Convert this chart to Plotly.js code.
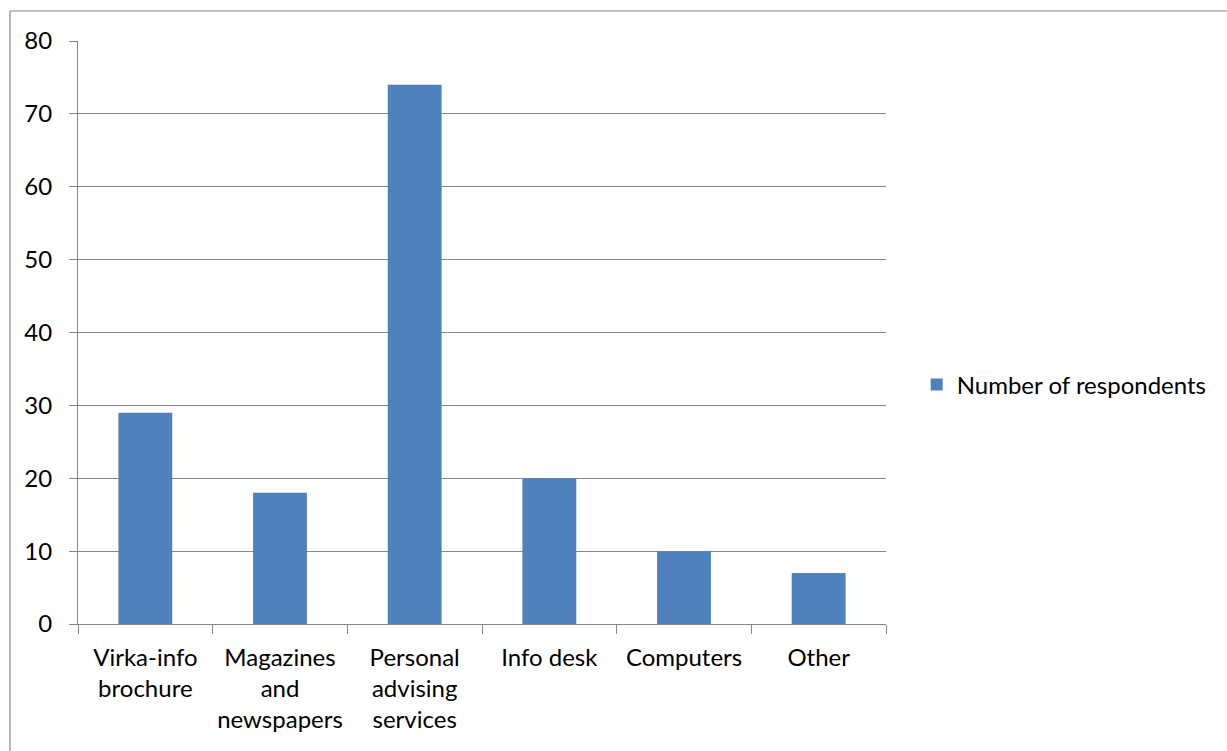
<!DOCTYPE html>
<html>
<head>
<meta charset="utf-8">
<script src="https://cdn.plot.ly/plotly-3.0.1.min.js"></script>
<style>
  html, body { margin: 0; padding: 0; background: #ffffff; }
  #chart { width: 1227px; height: 751px; }
</style>
</head>
<body>
<div id="chart"></div>
<script>
// Sources of information used by respondents
const categories = [
  "Virka-info<br>brochure",
  "Magazines<br>and<br>newspapers",
  "Personal<br>advising<br>services",
  "Info desk",
  "Computers",
  "Other"
];
const respondents = [29, 18, 74, 20, 10, 7];
const seriesName = "Number of respondents";
const yTicks = [0, 10, 20, 30, 40, 50, 60, 70, 80];

const gray = "#868686";
const font = { family: "Lato, 'Open Sans', sans-serif", size: 24, color: "#000000" };

const trace = {
  type: "bar",
  x: categories,
  y: respondents,
  name: seriesName,
  marker: { color: "#4F81BD", line: { width: 0 } },
  showlegend: true,
  hoverinfo: "x+y"
};

const layout = {
  width: 1227,
  height: 751,
  margin: { l: 78, r: 341, t: 41, b: 127 },
  paper_bgcolor: "#ffffff",
  plot_bgcolor: "#ffffff",
  font: font,
  bargap: 0.6,
  showlegend: true,
  legend: {
    x: 1.038, y: 0.41, xanchor: "left", yanchor: "middle",
    font: font, bgcolor: "rgba(0,0,0,0)", itemwidth: 30
  },
  xaxis: {
    type: "category",
    showline: true, linecolor: gray, linewidth: 1,
    ticks: "outside", ticklen: 9, tickcolor: gray, tickwidth: 1,
    tickson: "boundaries",
    showgrid: false, zeroline: false,
    tickfont: font,
    ticklabelstandoff: 12,
    automargin: false
  },
  yaxis: {
    range: [0, 80],
    tickvals: yTicks,
    ticktext: yTicks.map(String),
    showline: true, linecolor: gray, linewidth: 1,
    ticks: "outside", ticklen: 8, tickcolor: gray, tickwidth: 1,
    showgrid: true, gridcolor: gray, gridwidth: 1,
    zeroline: false,
    tickfont: font,
    ticklabelstandoff: 12,
    automargin: false
  },
  shapes: [
    // outer chart frame: top and left edges
    { type: "line", xref: "paper", yref: "paper", x0: -0.0842, x1: -0.0842, y0: -0.3, y1: 1.0515,
      line: { color: gray, width: 1.2 } },
    { type: "line", xref: "paper", yref: "paper", x0: -0.0842, x1: 1.6, y0: 1.0515, y1: 1.0515,
      line: { color: gray, width: 1.2 } }
  ]
};

Plotly.newPlot("chart", [trace], layout, { displayModeBar: false, responsive: false });
</script>
</body>
</html>
